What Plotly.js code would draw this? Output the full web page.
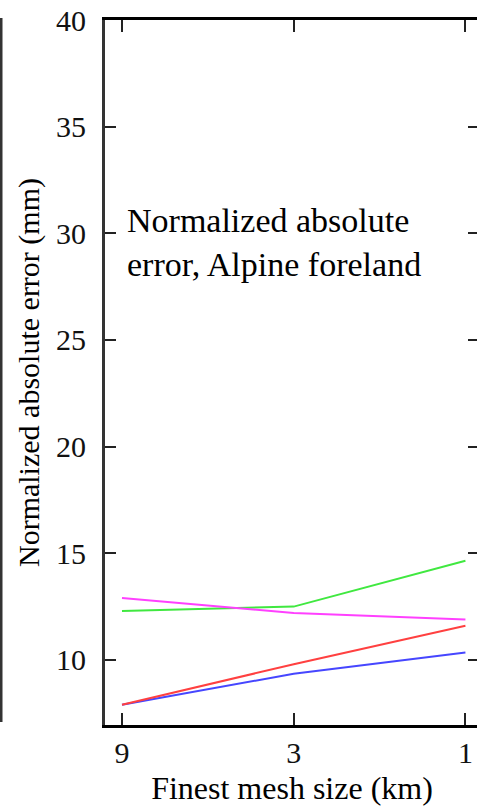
<!DOCTYPE html>
<html>
<head>
<meta charset="utf-8">
<script src="https://cdn.plot.ly/plotly-3.0.1.min.js"></script>
<style>
html, body { margin: 0; padding: 0; overflow: hidden; background: #fff; }
#chart { width: 482px; height: 806px; }
</style>
</head>
<body>
<div id="chart"></div>
<script>
// Finest mesh size categories (km)
const meshLabels = ['9', '3', '1'];
const meshPos = [0, 1, 2];

// Normalized absolute error (mm), Alpine foreland
const magentaSeries = [12.9, 12.2, 11.9];
const greenSeries = [12.3, 12.5, 14.65];
const redSeries = [7.9, 9.8, 11.6];
const blueSeries = [7.9, 9.35, 10.35];

const yTicks = [10, 15, 20, 25, 30, 35, 40];

const font = 'Liberation Serif';

function line(y, color) {
  return {
    x: meshPos, y: y, type: 'scatter', mode: 'lines',
    line: { color: color, width: 2 }, showlegend: false, hoverinfo: 'skip'
  };
}

const data = [
  line(blueSeries, '#4646ff'),
  line(redSeries, '#ff4040'),
  line(greenSeries, '#40e840'),
  line(magentaSeries, '#ff40ff')
];

const layout = {
  width: 482, height: 806,
  margin: { l: 105, r: 3, t: 20, b: 81, pad: 0 },
  paper_bgcolor: '#fff', plot_bgcolor: '#fff',
  showlegend: false,
  font: { family: font, color: '#000', size: 30 },
  xaxis: {
    range: [-0.099, 2.079],
    tickmode: 'array', tickvals: meshPos, ticktext: meshLabels,
    ticks: 'inside', ticklen: 12, tickwidth: 2, tickcolor: '#222',
    showline: true, linecolor: '#000', linewidth: 3, mirror: 'ticks',
    showgrid: false, zeroline: false,
    tickfont: { family: font, size: 30, color: '#111' },
    ticklabelstandoff: -1,
    title: { text: 'Finest mesh size (km)', font: { family: font, size: 32, color: '#000' }, standoff: 10 }
  },
  yaxis: {
    range: [6.95, 40],
    tickmode: 'array', tickvals: yTicks,
    ticks: 'inside', ticklen: 11, tickwidth: 2, tickcolor: '#222',
    showline: true, linecolor: '#333', linewidth: 3, mirror: 'ticks',
    showgrid: false, zeroline: false,
    tickfont: { family: font, size: 30, color: '#111' },
    ticklabelstandoff: 10,
    title: { text: 'Normalized absolute error (mm)', font: { family: font, size: 30, color: '#000' }, standoff: 8 }
  },
  annotations: [{
    xref: 'paper', yref: 'paper',
    x: (125 - 105) / 374, y: 1 - (200 - 20) / 705,
    xanchor: 'left', yanchor: 'top', align: 'left', showarrow: false,
    text: 'Normalized absolute<br>error, Alpine foreland',
    font: { family: font, size: 34, color: '#000' }
  }],
  shapes: [{
    type: 'line', xref: 'paper', yref: 'paper',
    x0: -104 / 374, x1: -104 / 374,
    y0: 1 - (18 - 20) / 705, y1: 1 - (722 - 20) / 705,
    line: { color: '#333', width: 3 }
  }]
};

Plotly.newPlot('chart', data, layout, { displayModeBar: false, staticPlot: true });
</script>
</body>
</html>
